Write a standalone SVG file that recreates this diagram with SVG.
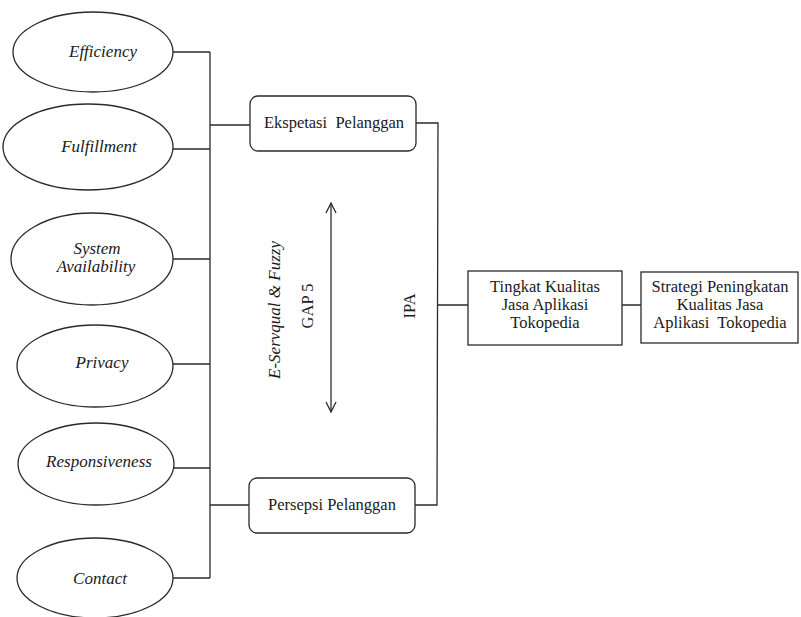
<svg xmlns="http://www.w3.org/2000/svg" width="801" height="617" viewBox="0 0 801 617">
<defs>
<style>
.s{fill:none;stroke:#2a2a2a;stroke-width:1.3}
.n{fill:#fff;stroke:#2a2a2a;stroke-width:1.3}
.t{font-family:'Liberation Serif','Times New Roman',Times,'DejaVu Serif',serif;font-size:16.5px;fill:#1a1a1a;text-anchor:middle;white-space:pre}
.i{font-style:italic;font-size:17px}
</style>
<marker id="ah" viewBox="0 0 12 12" refX="11" refY="6" markerWidth="12" markerHeight="12" markerUnits="userSpaceOnUse" orient="auto-start-reverse">
<path d="M1,1 L11,6 L1,11" fill="none" stroke="#2a2a2a" stroke-width="1.3"/>
</marker>
</defs>
<rect width="801" height="617" fill="#fff"/>
<g id="connectors">
<path class="s" d="M173,52 H210 M173,149 H210 M173,259 H210 M173,364 H210 M173,468 H210 M173,578 H210 M210,52 V578"/>
<path class="s" d="M210,125 H250 M210,505 H249"/>
<path class="s" d="M416,123 H438 L437,505 H415"/>
<path class="s" d="M437.5,305 H468 M622,305 H641"/>
<line class="s" x1="331" y1="203" x2="331" y2="412" marker-start="url(#ah)" marker-end="url(#ah)"/>
</g>
<g id="efficiency"><ellipse class="n" cx="93" cy="52" rx="80" ry="40"/><text class="t i" x="103" y="57">Efficiency</text></g>
<g id="fulfillment"><ellipse class="n" cx="88" cy="147" rx="85" ry="43"/><text class="t i" x="99" y="152">Fulfillment</text></g>
<g id="system-availability"><ellipse class="n" cx="92" cy="259" rx="81" ry="46"/><text class="t i" x="97" y="254">System</text><text class="t i" x="96" y="272">Availability</text></g>
<g id="privacy"><ellipse class="n" cx="95" cy="366" rx="78" ry="41"/><text class="t i" x="102" y="368">Privacy</text></g>
<g id="responsiveness"><ellipse class="n" cx="96" cy="464" rx="78" ry="41"/><text class="t i" x="99" y="467">Responsiveness</text></g>
<g id="contact"><ellipse class="n" cx="95" cy="578" rx="78" ry="40"/><text class="t i" x="100" y="584">Contact</text></g>
<g id="ekspetasi"><rect class="n" x="250" y="96" width="166" height="55" rx="8"/><text class="t" x="334" y="128" xml:space="preserve">Ekspetasi  Pelanggan</text></g>
<g id="persepsi"><rect class="n" x="249" y="478" width="166" height="55" rx="8"/><text class="t" x="332" y="510">Persepsi Pelanggan</text></g>
<g id="tingkat"><rect class="n" x="468" y="271" width="154" height="74"/><text class="t" x="545" y="292">Tingkat Kualitas</text><text class="t" x="545" y="310">Jasa Aplikasi</text><text class="t" x="545" y="328">Tokopedia</text></g>
<g id="strategi"><rect class="n" x="641" y="272" width="157" height="71"/><text class="t" x="720" y="292">Strategi Peningkatan</text><text class="t" x="720" y="310">Kualitas Jasa</text><text class="t" x="720" y="328" xml:space="preserve">Aplikasi  Tokopedia</text></g>
<g id="labels">
<text class="t i" transform="translate(280,310) rotate(-90)">E-Servqual &amp; Fuzzy</text>
<text class="t" transform="translate(313,306) rotate(-90)">GAP 5</text>
<text class="t" transform="translate(415,306) rotate(-90)">IPA</text>
</g>
</svg>
